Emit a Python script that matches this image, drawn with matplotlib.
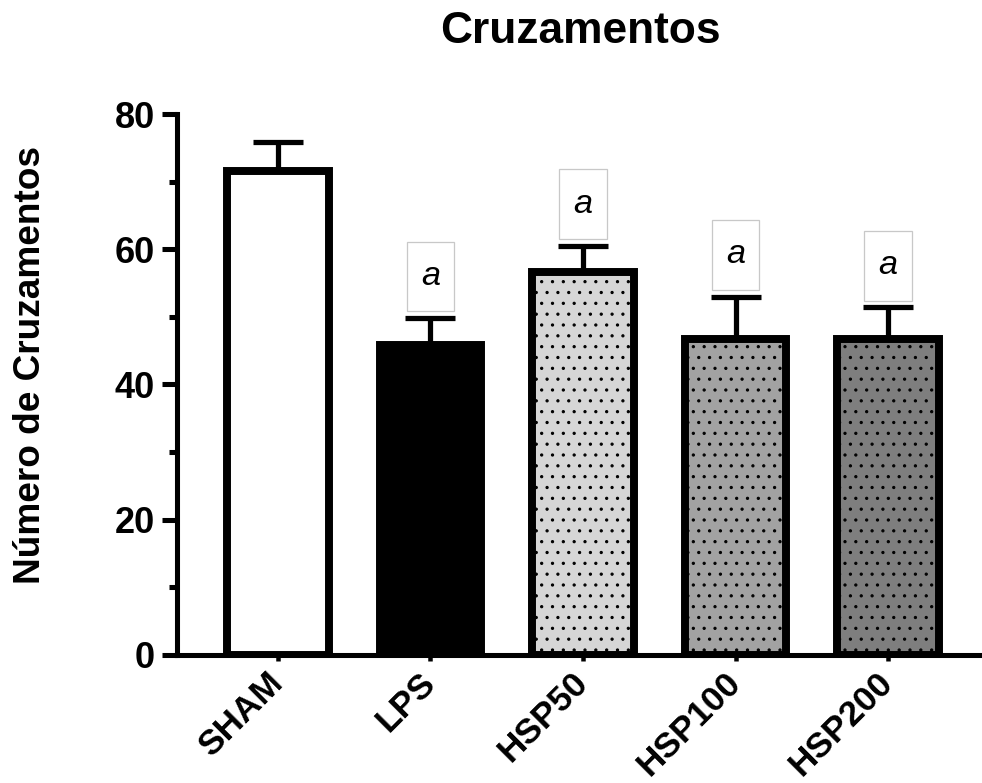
import matplotlib
matplotlib.use("Agg")
import matplotlib.pyplot as plt
from matplotlib.patches import Rectangle
from matplotlib.ticker import MultipleLocator
import numpy as np

plt.rcParams['font.family'] = ['Liberation Sans', 'DejaVu Sans']
plt.rcParams['font.weight'] = 'bold'
plt.rcParams['hatch.linewidth'] = 0.6

groups = ["SHAM", "LPS", "HSP50", "HSP100", "HSP200"]
means = [71.5, 45.8, 56.6, 46.8, 46.8]
sem = [4.4, 4.0, 3.9, 6.2, 4.6]
fills = ["white", "black", "#d6d6d6", "#a2a2a2", "#7e7e7e"]
hatches = [None, None, "..", "..", ".."]
marks = ["", "a", "a", "a", "a"]

dpi = 130
fig = plt.figure(figsize=(982 / dpi, 783 / dpi), dpi=dpi)
ax = fig.add_axes([0.1802, 0.1635, 0.8198, 0.6909])

x = np.arange(len(groups))
for i in range(len(groups)):
    ax.bar(x[i], means[i], width=0.665, color=fills[i], edgecolor="black",
           linewidth=4.4, hatch=hatches[i], zorder=3)

ax.errorbar(x, means, yerr=[np.zeros(len(x)), sem], fmt="none", ecolor="black",
            elinewidth=2.9, capsize=14, capthick=2.9, zorder=2)

# caixas com a letra de significância
box_w = 0.31
box_h = 10.3
for i in range(len(groups)):
    if marks[i] == "":
        continue
    y0 = means[i] + sem[i] + 1.0
    ax.add_patch(Rectangle((x[i] - box_w / 2, y0), box_w, box_h, facecolor="white",
                           edgecolor="#c8c8c8", linewidth=0.7, zorder=4, clip_on=False))
    ax.text(x[i], y0 + box_h / 2, marks[i], ha="center", va="center",
            fontsize=19, fontstyle="italic", fontweight="normal", zorder=5)

ax.set_xlim(-0.662, 4.616)
ax.set_ylim(0, 80)
ax.yaxis.set_major_locator(MultipleLocator(20))
ax.yaxis.set_minor_locator(MultipleLocator(10))

for s in ["top", "right"]:
    ax.spines[s].set_visible(False)
ax.spines["left"].set_linewidth(2.8)
ax.spines["bottom"].set_linewidth(2.8)

ax.tick_params(axis="y", which="major", length=8.3, width=2.8, labelsize=20, pad=4)
ax.tick_params(axis="y", which="minor", length=4.4, width=2.8)
ax.tick_params(axis="x", which="major", length=3.5, width=2.5, labelsize=19.5, pad=9)

ax.set_xticks(x)
ax.set_xticklabels(groups, rotation=45, ha="right", va="center", rotation_mode="anchor")
for lab in ax.get_xticklabels():
    lab.set_fontweight("bold")

ax.set_ylabel("Número de Cruzamentos", fontsize=20.5, fontweight="bold")
ax.yaxis.set_label_coords(-0.160, 0.536)

fig.text(0.5906, 0.960, "Cruzamentos", ha="center", va="center",
         fontsize=24.5, fontweight="bold")

fig.savefig("out.png", dpi=dpi)
